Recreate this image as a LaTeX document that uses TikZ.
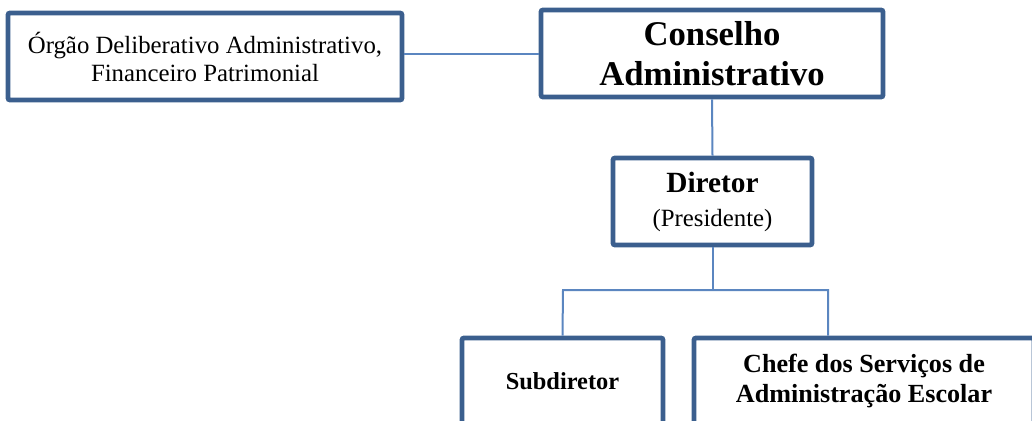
\documentclass[tikz,border=0pt]{standalone}
\usepackage{fontspec}
\setmainfont{Liberation Serif}
\definecolor{boxblue}{HTML}{3B5F8E}
\definecolor{lineblue}{HTML}{5B86C0}
\begin{document}
\begin{tikzpicture}[x=0.75pt,y=-0.75pt,
  orgbox/.style={draw=boxblue, line width=3.6pt, rounded corners=1.5pt, fill=white,
    align=center, inner sep=0pt, minimum height=65.25pt, text=black},
  conn/.style={draw=lineblue, line width=1.5pt}]
\useasboundingbox (0,0) rectangle (1032,421);
\clip (0,0) rectangle (1032,421);
\node[orgbox, minimum width=295.5pt, font=\fontsize{18.6}{21}\selectfont] (org) at (205,56.5)
  {Órgão Deliberativo Administrativo,\\Financeiro Patrimonial};
\node[orgbox, minimum width=256.5pt, font=\fontsize{26}{30}\selectfont\bfseries] (cons) at (712,53.5)
  {Conselho\\Administrativo};
\node[orgbox, minimum width=149.25pt, font=\fontsize{18.6}{25.5}\selectfont] (dir) at (712.5,201.5)
  {{\fontsize{22}{25.5}\selectfont\bfseries Diretor}\\(Presidente)};
\node[orgbox, minimum width=150.75pt, font=\fontsize{18.3}{22}\selectfont\bfseries] (sub) at (562.5,381.5)
  {Subdiretor};
\node[orgbox, minimum width=255pt, font=\fontsize{19.6}{22.5}\selectfont\bfseries] (chefe) at (864,381.5)
  {\raisebox{-4.5pt}{\begin{tabular}{@{}c@{}}Chefe dos Serviços de\\Administração Escolar\end{tabular}}};
\coordinate (jl) at (563,290);
\coordinate (jr) at (828,290);
\draw[conn] (cons.west) -- (cons.west -| org.east);
\draw[conn] (cons.south) -- (dir.north);
\draw[conn] (dir.south) -- (dir.south |- jl);
\draw[conn] (sub.north) -- (jl) -- (jr) -- (jr |- chefe.north);
\end{tikzpicture}
\end{document}
